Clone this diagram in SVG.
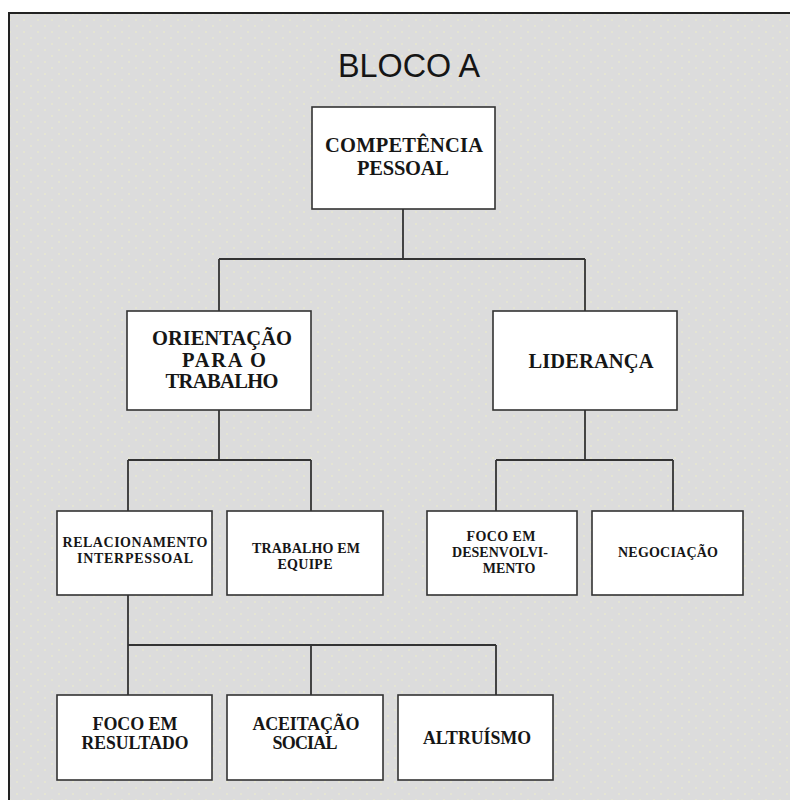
<svg xmlns="http://www.w3.org/2000/svg" width="790" height="800" viewBox="0 0 790 800">
  <defs>
    <pattern id="speckle" width="14" height="12" patternUnits="userSpaceOnUse">
      <rect width="14" height="12" fill="#dcdcdc"/>
      <circle cx="3" cy="2" r="0.7" fill="#f4f4c8"/>
      <circle cx="10" cy="8" r="0.7" fill="#f2f2c4"/>
    </pattern>
    <style>
      .box { fill: #ffffff; stroke: #333333; stroke-width: 1.6; }
      .wire { fill: none; stroke: #333333; stroke-width: 1.8; }
      .t1 { font-family: "Liberation Serif", "Times New Roman", serif; font-weight: bold; font-size: 20.5px; fill: #161616; text-anchor: middle; }
      .t2 { font-family: "Liberation Serif", "Times New Roman", serif; font-weight: bold; font-size: 14px; fill: #161616; text-anchor: middle; }
      .t3 { font-family: "Liberation Serif", "Times New Roman", serif; font-weight: bold; font-size: 18px; fill: #161616; text-anchor: middle; }
      .title { font-family: "Liberation Sans", Arial, sans-serif; font-size: 34px; fill: #151515; text-anchor: middle; }
    </style>
  </defs>

  <!-- page and panel -->
  <rect x="0" y="0" width="790" height="800" fill="#ffffff"/>
  <rect x="9" y="13" width="781" height="787" fill="url(#speckle)"/>
  <path d="M9 800 V13 H790" fill="none" stroke="#222222" stroke-width="2"/>

  <text class="title" x="409" y="77" textLength="142" lengthAdjust="spacingAndGlyphs">BLOCO A</text>

  <!-- connectors -->
  <g id="connectors" class="wire">
    <path d="M403 209 V259 M219 259 H585 M219 259 V311 M585 259 V311"/>
    <path d="M219 410 V460 M128 460 H311 M128 460 V511 M311 460 V511"/>
    <path d="M585 410 V460 M496 460 H673 M496 460 V511 M673 460 V511"/>
    <path d="M128 595 V645 M128 645 H496 M128 645 V695 M311 645 V695 M496 645 V695"/>
  </g>

  <!-- level 1 -->
  <g id="competencia-pessoal">
    <rect class="box" x="312" y="107" width="183" height="102"/>
    <text class="t1" x="404" y="152" textLength="158" lengthAdjust="spacing">COMPETÊNCIA</text>
    <text class="t1" x="403" y="175" textLength="92" lengthAdjust="spacing">PESSOAL</text>
  </g>

  <!-- level 2 -->
  <g id="orientacao-trabalho">
    <rect class="box" x="127" y="311" width="184" height="99"/>
    <text class="t1" x="222" y="345" textLength="140" lengthAdjust="spacingAndGlyphs">ORIENTAÇÃO</text>
    <text class="t1" x="224" y="367" textLength="84" lengthAdjust="spacing">PARA O</text>
    <text class="t1" x="222" y="388" textLength="113" lengthAdjust="spacing">TRABALHO</text>
  </g>
  <g id="lideranca">
    <rect class="box" x="493" y="311" width="184" height="99"/>
    <text class="t1" x="591" y="368" textLength="125" lengthAdjust="spacing">LIDERANÇA</text>
  </g>

  <!-- level 3 -->
  <g id="relacionamento-interpessoal">
    <rect class="box" x="57" y="511" width="155" height="84"/>
    <text class="t2" x="135" y="547" textLength="145" lengthAdjust="spacing">RELACIONAMENTO</text>
    <text class="t2" x="135" y="563" textLength="116" lengthAdjust="spacing">INTERPESSOAL</text>
  </g>
  <g id="trabalho-equipe">
    <rect class="box" x="227" y="511" width="156" height="84"/>
    <text class="t2" x="306" y="553" textLength="108" lengthAdjust="spacing">TRABALHO EM</text>
    <text class="t2" x="305" y="569" textLength="55" lengthAdjust="spacing">EQUIPE</text>
  </g>
  <g id="foco-desenvolvimento">
    <rect class="box" x="427" y="511" width="150" height="84"/>
    <text class="t2" x="501" y="541" textLength="69" lengthAdjust="spacing">FOCO EM</text>
    <text class="t2" x="500" y="557" textLength="96" lengthAdjust="spacing">DESENVOLVI-</text>
    <text class="t2" x="509" y="573">MENTO</text>
  </g>
  <g id="negociacao">
    <rect class="box" x="592" y="511" width="151" height="84"/>
    <text class="t2" x="668" y="557" textLength="100" lengthAdjust="spacing">NEGOCIAÇÃO</text>
  </g>

  <!-- level 4 -->
  <g id="foco-resultado">
    <rect class="box" x="57" y="695" width="155" height="85"/>
    <text class="t3" x="135" y="730" textLength="85" lengthAdjust="spacing">FOCO EM</text>
    <text class="t3" x="135" y="749" textLength="107" lengthAdjust="spacingAndGlyphs">RESULTADO</text>
  </g>
  <g id="aceitacao-social">
    <rect class="box" x="227" y="695" width="156" height="85"/>
    <text class="t3" x="306" y="730" textLength="107" lengthAdjust="spacing">ACEITAÇÃO</text>
    <text class="t3" x="305" y="749" textLength="65" lengthAdjust="spacing">SOCIAL</text>
  </g>
  <g id="altruismo">
    <rect class="box" x="398" y="695" width="155" height="85"/>
    <text class="t3" x="477" y="744" textLength="108" lengthAdjust="spacingAndGlyphs">ALTRUÍSMO</text>
  </g>
</svg>
